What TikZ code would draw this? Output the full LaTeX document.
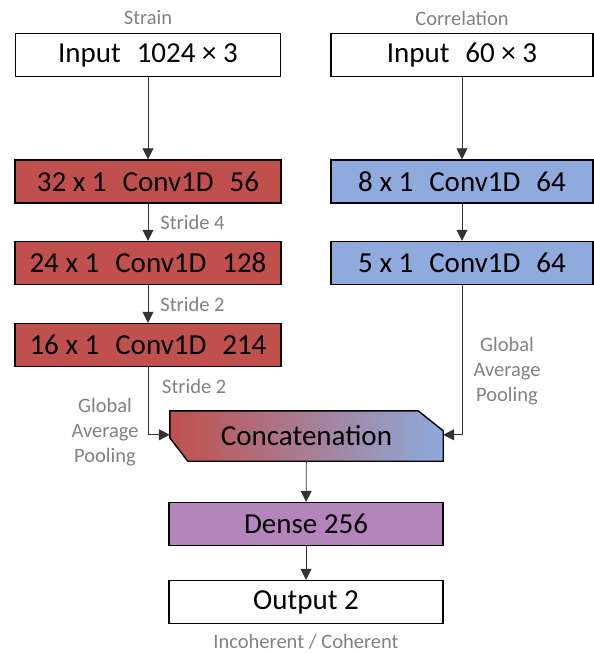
\documentclass[tikz,border=0pt]{standalone}
\usepackage{fontspec}
\setmainfont{Carlito}
\usepackage{tikz}
\usetikzlibrary{arrows.meta,positioning,backgrounds}

\definecolor{strainred}{RGB}{192,80,77}
\definecolor{corrblue}{RGB}{143,170,220}
\definecolor{densepurple}{RGB}{180,133,187}
\definecolor{labelgray}{RGB}{130,130,130}

\newcommand{\gap}{\hspace{0.55em}}

\begin{document}
\begin{tikzpicture}[x=1pt,y=-1pt,
  layer/.style={draw=black,line width=1.4pt,minimum height=43pt,inner sep=0pt,font=\fontsize{29}{32}\selectfont},
  lbl/.style={text=labelgray,font=\fontsize{20.5}{25}\selectfont,inner sep=0pt},
  arr/.style={line width=0.8pt,draw=black!80,-{Triangle[length=11pt,width=11pt]}}]
\useasboundingbox (0,0) rectangle (594,654);

% strain branch
\node[layer,minimum width=265pt] (inA) at (148,55) {Input\gap 1024 × 3};
\node[lbl] (strain) at (148,18) {Strain};
\node[layer,fill=strainred,minimum width=266pt] (cA1) at (148,181.5) {32 x 1\gap Conv1D\gap 56};
\node[layer,fill=strainred,minimum width=266pt] (cA2) at (148,263) {24 x 1\gap Conv1D\gap 128};
\node[layer,fill=strainred,minimum width=266pt] (cA3) at (148,345) {16 x 1\gap Conv1D\gap 214};

% correlation branch
\node[layer,minimum width=262pt] (inB) at (462,55) {Input\gap 60 × 3};
\node[lbl] (corr) at (462,18) {Correlation};
\node[layer,fill=corrblue,minimum width=262pt] (cB1) at (462,181.5) {8 x 1\gap Conv1D\gap 64};
\node[layer,fill=corrblue,minimum width=262pt] (cB2) at (462,263) {5 x 1\gap Conv1D\gap 64};

% merge
\node[minimum width=273pt,minimum height=50pt,inner sep=0pt,font=\fontsize{29}{32}\selectfont] (concat) at (306.5,436) {Concatenation};
\begin{scope}[on background layer]
\draw[line width=1.4pt,left color=strainred,right color=corrblue]
  (concat.north west) -- ([xshift=-25pt]concat.north east) -- ([yshift=-20pt]concat.north east)
  -- (concat.south east) -- ([xshift=18pt]concat.south west) -- ([yshift=-27pt]concat.north west) -- cycle;
\end{scope}
\node[layer,fill=densepurple,minimum width=274pt] (dense) at (306,524) {Dense 256};
\node[layer,minimum width=274pt] (out) at (306,602) {Output 2};
\node[lbl] (classes) at (306,642) {Incoherent / Coherent};

% connectors
\draw[arr] (inA) -- (cA1);
\draw[arr] (cA1) -- node[lbl,right=12pt] (s1) {Stride 4} (cA2);
\draw[arr] (cA2) -- node[lbl,right=12pt] (s2) {Stride 2} (cA3);
\draw[arr] (cA3.south) |- ([yshift=-24pt]concat.north west);
\node[lbl,anchor=west] (s3) at (162,386) {Stride 2};
\node[lbl,align=center] (gapA) at (105,432) {Global\\Average\\Pooling};
\draw[arr] (inB) -- (cB1);
\draw[arr] (cB1) -- (cB2);
\draw[arr] (cB2.south) |- ([yshift=-24pt]concat.north east);
\node[lbl,align=center] (gapB) at (507,371) {Global\\Average\\Pooling};
\draw[arr] (concat) -- (dense);
\draw[arr] (dense) -- (out);
\end{tikzpicture}
\end{document}
